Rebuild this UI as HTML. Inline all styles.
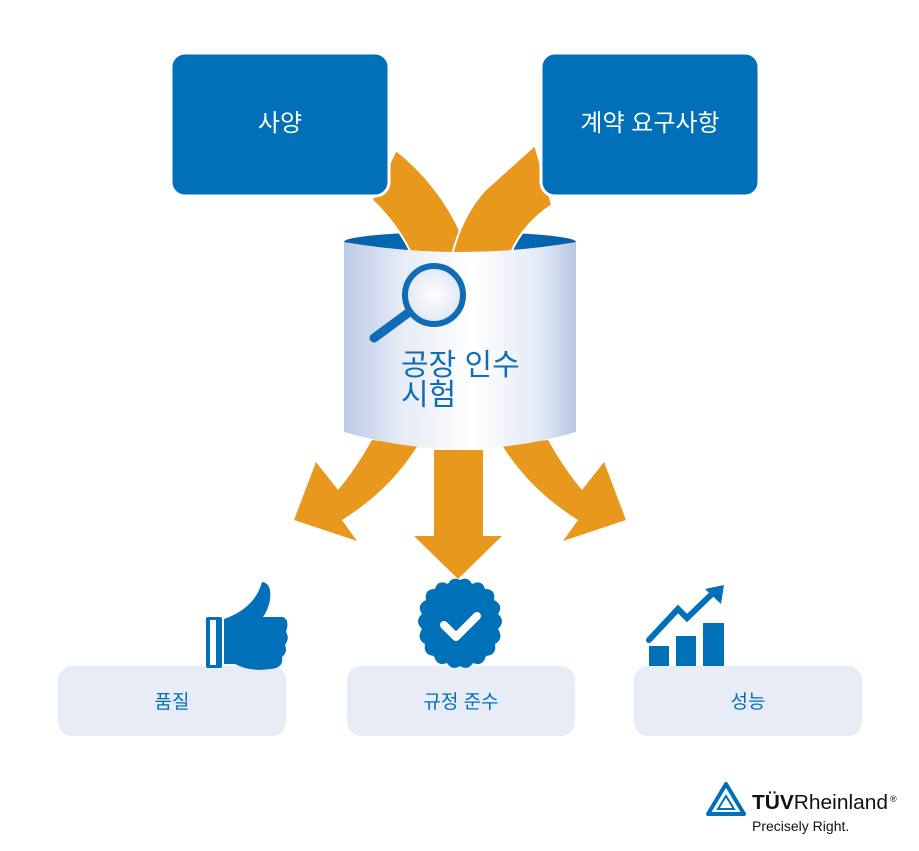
<!DOCTYPE html>
<html><head><meta charset="utf-8"><style>
html,body{margin:0;padding:0;background:#fff;}
svg{display:block;font-family:"Liberation Sans","Noto Sans CJK KR",sans-serif;}
</style></head><body>
<svg width="919" height="851" viewBox="0 0 919 851" xmlns="http://www.w3.org/2000/svg">
<defs>
<linearGradient id="cyl" x1="0" x2="1" y1="0" y2="0">
<stop offset="0" stop-color="#bccbe6"/><stop offset="0.25" stop-color="#e6ebf6"/>
<stop offset="0.55" stop-color="#ffffff"/><stop offset="0.85" stop-color="#e3e9f5"/><stop offset="1" stop-color="#b6c6e4"/>
</linearGradient>
<linearGradient id="top" x1="0" x2="1"><stop offset="0" stop-color="#0a5fa8"/><stop offset="0.5" stop-color="#0070b9"/><stop offset="1" stop-color="#0a5fa8"/></linearGradient>
<radialGradient id="lens"><stop offset="0" stop-color="#fff"/><stop offset="1" stop-color="#dfe6f3"/></radialGradient>
</defs>
<!-- cylinder top -->
<ellipse cx="460" cy="242" rx="116" ry="10" fill="url(#top)"/>
<!-- incoming arrows (behind boxes) -->
<path d="M396 150 Q440 185 462 235 L470 255 L412 255 Q398 225 372 200 Z" fill="#e8981d" stroke="#fff" stroke-width="2"/>
<path d="M535 145 L552 205 Q522 225 510 255 L452 255 Q462 215 485 190 Z" fill="#e8981d" stroke="#fff" stroke-width="2"/>
<!-- top boxes -->
<rect x="171" y="53" width="218" height="143" rx="14" fill="#0070b9" stroke="#fff" stroke-width="3"/>
<rect x="541" y="53" width="218" height="143" rx="14" fill="#0070b9" stroke="#fff" stroke-width="3"/>
<text x="280" y="131" font-size="24" fill="#fff" text-anchor="middle">사양</text>
<text x="650" y="131" font-size="24" fill="#fff" text-anchor="middle">계약 요구사항</text>
<!-- outgoing arrows -->
<path d="M372 440 Q355 470 338 490 L316 462 L294 520 L357 541 L342 520 Q390 490 418 445 Z" fill="#e8981d"/>
<path d="M548 440 Q565 470 582 490 L604 462 L626 520 L563 541 L578 520 Q530 490 502 445 Z" fill="#e8981d"/>
<path d="M434 450 L483 450 L483 536 L502 536 L458 579 L414 536 L434 536 Z" fill="#e8981d"/>
<!-- cylinder body -->
<path d="M344 242 Q460 262 576 242 L576 432 Q460 466 344 432 Z" fill="url(#cyl)"/>
<!-- magnifier -->
<line x1="374" y1="338" x2="408" y2="313" stroke="#0f6cb5" stroke-width="9" stroke-linecap="round"/>
<circle cx="434" cy="295" r="29" fill="url(#lens)" stroke="#0f6cb5" stroke-width="6"/>
<text x="401" y="375" font-size="30" fill="#0f6cb5">공장 인수</text>
<text x="401" y="405" font-size="30" fill="#0f6cb5">시험</text>
<!-- bottom boxes -->
<rect x="58" y="666" width="228" height="70" rx="14" fill="#e8ecf7"/>
<rect x="347" y="666" width="228" height="70" rx="14" fill="#e8ecf7"/>
<rect x="634" y="666" width="228" height="70" rx="14" fill="#e8ecf7"/>
<text x="172" y="708" font-size="19" fill="#0070b9" text-anchor="middle">품질</text>
<text x="461" y="708" font-size="19" fill="#0070b9" text-anchor="middle">규정 준수</text>
<text x="748" y="708" font-size="19" fill="#0070b9" text-anchor="middle">성능</text>
<!-- thumbs up -->
<rect x="206" y="617" width="16" height="51" rx="2" fill="#0070b9"/>
<rect x="210" y="620" width="6" height="45" fill="#fff"/>
<path d="M224 619 Q255 608 262 582 Q272 583 270 600 Q268 610 263 617 L283 617 Q290 620 286 632 Q290 638 285 645 Q288 652 282 657 Q284 668 270 669 Q250 672 235 664 L224 664 Z" fill="#0070b9"/>
<!-- badge -->
<g transform="translate(460,623)">
<path d="M0-43 Q8-47 12-39 Q22-44 25-34 Q36-34 34-23 Q44-18 38-9 Q46-2 38 6 Q44 16 35 21 Q37 32 26 33 Q23 44 13 40 Q8 48 0 43 Q-8 48-13 40 Q-23 44-26 33 Q-37 32-35 21 Q-44 16-38 6 Q-46-2-38-9 Q-44-18-34-23 Q-36-34-25-34 Q-22-44-12-39 Q-8-47 0-43Z" fill="#0070b9"/>
<path d="M-16 2 L-4 14 L17-7" fill="none" stroke="#fff" stroke-width="8" stroke-linecap="round" stroke-linejoin="round"/>
</g>
<!-- chart -->
<rect x="649" y="646" width="20" height="20" fill="#0070b9"/>
<rect x="676" y="636" width="20" height="30" fill="#0070b9"/>
<rect x="703" y="623" width="21" height="43" fill="#0070b9"/>
<path d="M649 640 L678 609 L687 618 L715 591" fill="none" stroke="#0070b9" stroke-width="6" stroke-linecap="round"/>
<path d="M705 589 L724 585 L721 604 Z" fill="#0070b9"/>
<!-- logo -->
<path d="M726 784 L708 814 L744 814 Z" fill="none" stroke="#0070b9" stroke-width="4" stroke-linejoin="round"/>
<path d="M726 796 L718 809 L734 809 Z" fill="none" stroke="#0070b9" stroke-width="2"/>
<text x="752" y="809" font-size="20" font-weight="bold" fill="#111" textLength="136" lengthAdjust="spacingAndGlyphs">TÜV<tspan font-weight="normal">Rheinland</tspan></text>
<text x="890" y="802" font-size="9" fill="#111">®</text>
<text x="752" y="831" font-size="14" fill="#111">Precisely Right.</text>
</svg>
</body></html>
